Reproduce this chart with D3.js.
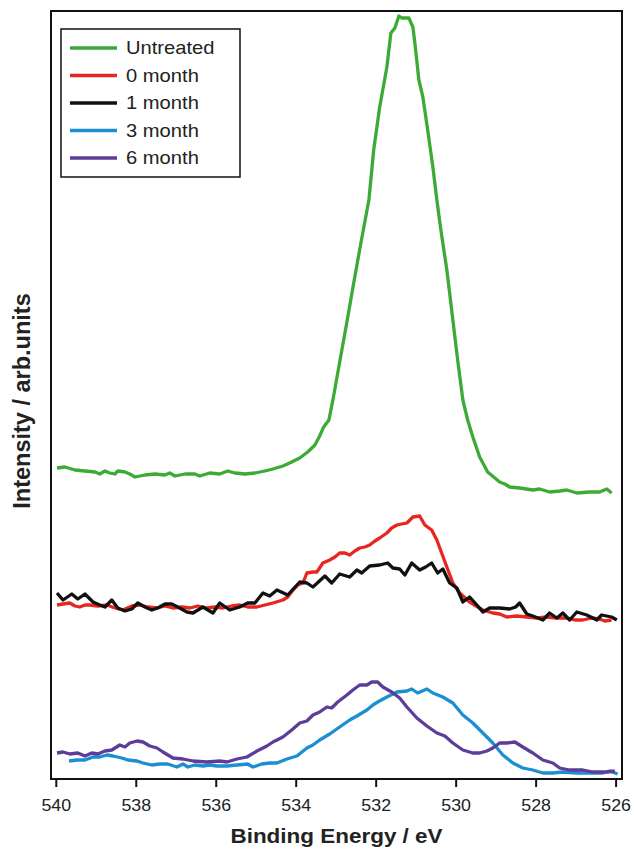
<!DOCTYPE html>
<html>
<head>
<meta charset="utf-8">
<script src="https://cdn.jsdelivr.net/npm/d3@7"></script>
<style>
  body { margin: 0; background: #fff; }
  svg { font-family: "Liberation Sans", Arial, sans-serif; }
</style>
</head>
<body>
<svg id="chart" width="634" height="849"></svg>
<script>
// [binding energy (eV), intensity (arb. units)]
var untreated = [
  [539.97,31.1],[539.77,31.2],[539.52,30.9],[539.27,30.8],[539.02,30.7],[538.9,30.5],[538.77,30.8],
  [538.65,30.6],[538.52,30.5],[538.45,30.8],[538.27,30.7],[538.15,30.5],[538.02,30.2],[537.77,30.4],
  [537.52,30.5],[537.27,30.4],[537.15,30.6],[537.02,30.3],[536.77,30.5],[536.52,30.5],[536.4,30.3],
  [536.15,30.6],[535.9,30.5],[535.7,30.8],[535.52,30.6],[535.27,30.5],[535.02,30.6],[534.77,30.8],
  [534.57,31.0],[534.32,31.3],[534.1,31.7],[533.9,32.1],[533.7,32.7],[533.52,33.4],[533.4,34.3],
  [533.3,35.2],[533.17,35.9],[533.07,37.9],[532.9,41.7],[532.72,45.7],[532.55,49.6],[532.37,53.6],
  [532.17,57.9],[532.05,62.9],[531.9,67.2],[531.8,69.4],[531.72,71.2],[531.62,74.6],[531.52,75.1],
  [531.42,76.3],[531.35,76.1],[531.25,76.1],[531.17,76.1],[531.07,75.2],[531.02,73.6],[530.92,69.9],
  [530.82,68.2],[530.7,64.9],[530.57,61.2],[530.47,57.9],[530.37,54.9],[530.22,50.9],[530.1,46.9],
  [529.95,41.9],[529.82,37.9],[529.7,35.9],[529.57,34.2],[529.4,32.2],[529.2,30.7],[529.02,30.1],
  [528.9,29.7],[528.77,29.5],[528.65,29.2],[528.4,29.1],[528.07,28.9],[527.9,29.0],[527.65,28.7],
  [527.4,28.8],[527.22,28.9],[526.97,28.6],[526.65,28.7],[526.4,28.7],[526.22,29.0],[526.1,28.6]
];
var month0 = [
  [539.97,17.4],[539.82,17.5],[539.65,17.6],[539.52,17.3],[539.4,17.2],[539.27,17.4],[539.15,17.4],
  [538.95,17.3],[538.72,17.4],[538.52,17.1],[538.32,16.9],[538.1,17.3],[537.9,17.4],[537.7,17.2],
  [537.47,17.1],[537.27,17.3],[537.07,17.1],[536.85,17.2],[536.65,17.1],[536.45,17.3],[536.22,17.1],
  [536.02,17.2],[535.82,17.1],[535.6,17.3],[535.4,17.4],[535.2,17.2],[534.97,17.2],[534.77,17.4],
  [534.57,17.6],[534.32,17.9],[534.2,18.2],[534.07,18.9],[533.95,19.4],[533.82,19.6],[533.72,20.6],
  [533.57,20.7],[533.47,20.7],[533.32,21.6],[533.15,21.9],[533.02,22.2],[532.9,22.6],[532.77,22.6],
  [532.65,22.4],[532.52,22.8],[532.4,23.1],[532.27,23.2],[532.15,23.4],[532.02,23.8],[531.9,24.1],
  [531.72,24.6],[531.6,25.1],[531.47,25.4],[531.35,25.5],[531.22,25.6],[531.07,26.2],[530.9,26.3],
  [530.77,25.4],[530.6,24.9],[530.47,23.9],[530.35,22.6],[530.22,21.2],[530.07,19.6],[529.9,18.6],
  [529.65,17.7],[529.32,16.9],[529.07,16.6],[528.9,16.5],[528.72,16.2],[528.47,16.3],[528.22,16.2],
  [527.97,16.1],[527.72,16.2],[527.47,16.1],[527.22,16.1],[527.02,15.9],[526.82,15.9],[526.6,16.1],
  [526.4,16.0],[526.27,15.8],[526.1,15.9]
];
var month1 = [
  [539.97,18.6],[539.82,17.9],[539.6,18.5],[539.45,18.0],[539.27,18.5],[539.07,17.7],[538.9,17.4],
  [538.77,17.2],[538.6,17.9],[538.45,17.1],[538.27,16.8],[538.1,17.0],[537.95,17.6],[537.77,17.2],
  [537.6,16.9],[537.45,17.1],[537.27,17.5],[537.1,17.5],[536.95,17.2],[536.72,16.7],[536.57,16.6],
  [536.32,17.2],[536.07,16.6],[535.9,17.6],[535.65,16.9],[535.4,17.2],[535.2,17.6],[535.02,17.6],
  [534.82,18.6],[534.65,18.3],[534.47,18.9],[534.2,18.4],[533.9,19.7],[533.72,19.6],[533.57,19.2],
  [533.27,20.3],[533.1,19.6],[532.9,20.5],[532.65,20.2],[532.47,20.9],[532.35,20.6],[532.15,21.3],
  [531.9,21.4],[531.7,21.6],[531.57,21.1],[531.4,21.0],[531.27,20.4],[531.1,21.6],[530.9,20.9],
  [530.75,21.2],[530.6,21.6],[530.45,20.6],[530.32,21.0],[530.15,19.6],[529.97,19.1],[529.82,17.7],
  [529.65,18.2],[529.47,17.4],[529.32,16.7],[529.15,17.1],[528.9,17.1],[528.65,17.0],[528.5,17.2],
  [528.4,17.6],[528.22,16.5],[528.07,16.3],[527.82,15.9],[527.65,16.6],[527.47,16.1],[527.32,16.6],
  [527.15,15.9],[526.97,16.7],[526.72,16.4],[526.47,15.9],[526.35,16.4],[526.1,16.2],[525.97,15.9]
];
var month3 = [
  [539.67,1.8],[539.47,1.9],[539.27,1.9],[539.07,2.2],[538.9,2.2],[538.72,2.4],[538.57,2.3],
  [538.35,2.1],[538.2,1.9],[537.97,1.8],[537.82,1.6],[537.6,1.4],[537.4,1.5],[537.2,1.5],
  [536.97,1.2],[536.82,1.5],[536.7,1.2],[536.52,1.4],[536.32,1.3],[536.15,1.4],[535.97,1.3],
  [535.72,1.3],[535.47,1.4],[535.2,1.5],[535.07,1.2],[534.85,1.5],[534.65,1.6],[534.47,1.6],
  [534.22,2.0],[533.97,2.3],[533.72,3.1],[533.57,3.4],[533.4,3.9],[533.15,4.5],[532.9,5.2],
  [532.65,5.9],[532.47,6.3],[532.22,6.9],[532.07,7.4],[531.95,7.7],[531.72,8.2],[531.47,8.7],
  [531.22,8.8],[531.1,9.0],[530.95,8.6],[530.72,9.0],[530.57,8.6],[530.32,8.2],[530.07,7.6],
  [529.82,6.4],[529.57,5.6],[529.32,4.6],[529.07,3.6],[528.82,2.4],[528.57,1.6],[528.32,1.1],
  [528.07,0.9],[527.82,0.6],[527.57,0.6],[527.32,0.7],[526.97,0.6],[526.65,0.6],[526.32,0.6],
  [526.15,0.8],[525.95,0.5]
];
var month6 = [
  [539.97,2.6],[539.82,2.7],[539.65,2.5],[539.45,2.6],[539.27,2.3],[539.1,2.6],[538.95,2.5],
  [538.77,2.8],[538.6,2.9],[538.4,3.4],[538.27,3.2],[538.15,3.6],[537.97,3.8],[537.82,3.7],
  [537.65,3.3],[537.47,3.1],[537.32,2.7],[537.07,2.1],[536.82,2.0],[536.57,1.8],[536.22,1.7],
  [535.9,1.8],[535.72,1.7],[535.47,2.0],[535.22,2.2],[534.97,2.8],[534.72,3.3],[534.57,3.7],
  [534.32,4.2],[534.07,5.0],[533.9,5.6],[533.72,5.8],[533.57,6.4],[533.4,6.7],[533.22,7.2],
  [533.1,7.1],[532.95,7.7],[532.72,8.4],[532.57,8.9],[532.4,9.4],[532.22,9.4],[532.1,9.7],
  [531.95,9.7],[531.82,9.2],[531.6,8.7],[531.4,8.1],[531.22,7.2],[530.97,6.1],[530.72,5.3],
  [530.47,4.6],[530.27,4.3],[530.07,3.6],[529.82,2.9],[529.57,2.6],[529.4,2.6],[529.22,2.8],
  [529.07,3.1],[528.9,3.6],[528.72,3.6],[528.52,3.7],[528.32,3.2],[528.07,2.6],[527.82,1.9],
  [527.57,1.6],[527.4,1.1],[527.15,0.9],[526.82,0.9],[526.57,0.7],[526.22,0.7],[526.02,0.8]
];

var seriesNames = ["Untreated", "0 month", "1 month", "3 month", "6 month"];
var seriesData = [untreated, month0, month1, month3, month6];
var seriesColors = ["#3cab36", "#e8251f", "#111111", "#1b8fd2", "#5e3c99"];
var xTicks = [540, 538, 536, 534, 532, 530, 528, 526];

var svg = d3.select("#chart");
var margin = { top: 11, right: 12, bottom: 70, left: 51 },
    width = 634 - margin.left - margin.right,
    height = 849 - margin.top - margin.bottom;

var chart = svg.append("g")
    .attr("transform", "translate(" + margin.left + "," + margin.top + ")");

// Add scales (binding energy runs right to left)
var xScale = d3.scaleLinear()
    .domain([540.12, 525.84])
    .range([0, width]);

var yScale = d3.scaleLinear()
    .domain([0, 76.8])
    .range([height, 0]);

// Draw curves
var line = d3.line()
    .x(function (d) { return xScale(d[0]); })
    .y(function (d) { return yScale(d[1]); });

chart.selectAll(".curve")
    .data(seriesData)
    .enter()
    .append("path")
    .attr("class", "curve")
    .attr("d", line)
    .attr("fill", "none")
    .attr("stroke", function (d, i) { return seriesColors[i]; })
    .attr("stroke-width", 3.3)
    .attr("stroke-linejoin", "round");

// Frame
chart.append("rect")
    .attr("width", width)
    .attr("height", height)
    .attr("fill", "none")
    .attr("stroke", "#111")
    .attr("stroke-width", 2);

// Add x-axis
var xAxis = chart.append("g")
    .attr("class", "x axis")
    .attr("transform", "translate(0," + height + ")")
    .call(d3.axisBottom(xScale)
        .tickValues(xTicks)
        .tickFormat(d3.format("d"))
        .tickSize(8)
        .tickPadding(12));
xAxis.select(".domain").remove();
xAxis.selectAll("line").attr("stroke", "#111").attr("stroke-width", 2);
xAxis.selectAll("text")
    .attr("fill", "#222")
    .attr("transform", "scale(1.08,1)")
    .style("font-size", "16.5px")
    .style("font-family", "'Liberation Sans', Arial, sans-serif");

// Axis titles
svg.append("text")
    .attr("transform", "translate(" + (margin.left + width / 2) + ",843) scale(1.07,1)")
    .attr("text-anchor", "middle")
    .style("font-size", "21px")
    .style("font-weight", "bold")
    .attr("fill", "#222")
    .text("Binding Energy / eV");

svg.append("text")
    .attr("transform", "translate(30," + (margin.top + height / 2 + 6) + ") rotate(-90)")
    .attr("text-anchor", "middle")
    .style("font-size", "23.5px")
    .style("font-weight", "bold")
    .attr("fill", "#222")
    .text("Intensity / arb.units");

// Legend
var legend = svg.append("g").attr("transform", "translate(61,29)");
legend.append("rect")
    .attr("width", 179)
    .attr("height", 148)
    .attr("fill", "#fff")
    .attr("stroke", "#111")
    .attr("stroke-width", 1.5);

var rows = legend.selectAll(".entry")
    .data(seriesNames)
    .enter()
    .append("g")
    .attr("class", "entry")
    .attr("transform", function (d, i) { return "translate(0," + (19 + i * 27.5) + ")"; });

rows.append("line")
    .attr("x1", 9).attr("x2", 56)
    .attr("stroke", function (d, i) { return seriesColors[i]; })
    .attr("stroke-width", 3.3);

rows.append("text")
    .attr("transform", "translate(65,0) scale(1.12,1)")
    .attr("dy", "0.36em")
    .style("font-size", "18px")
    .attr("fill", "#222")
    .text(function (d) { return d; });
</script>
</body>
</html>
